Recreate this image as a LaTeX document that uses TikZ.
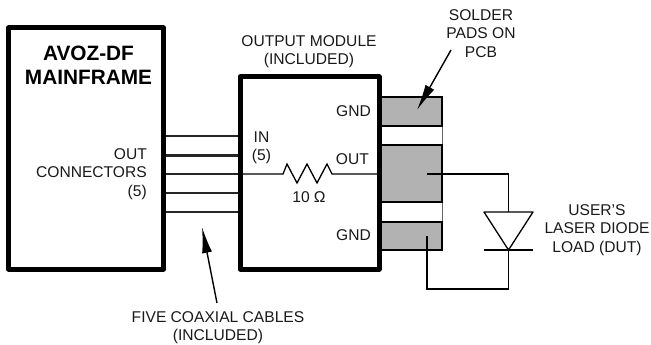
\documentclass[tikz,border=0pt]{standalone}
\usepackage{fontspec}
\setmainfont{Liberation Sans}
\usetikzlibrary{arrows.meta}
\tikzset{
  lbl/.style={inner sep=0pt,font=\fontsize{15.6}{18.4}\selectfont,align=center,text=black!90},
  bigbox/.style={draw,line width=5pt,line join=round,fill=white,inner sep=0pt},
  pad/.style={draw,line width=1.6pt,fill=black!30,inner sep=0pt,minimum width=63pt},
  gap/.style={draw=black!60,line width=1pt,fill=white,inner sep=0pt,minimum width=63pt},
  cable/.style={line width=2pt,draw=black!85},
  wire/.style={line width=1.3pt},
  callout/.style={line width=1.4pt,-{Latex[length=26pt,width=10pt]}}
}
\begin{document}
\begin{tikzpicture}[x=1pt,y=-1pt]
\useasboundingbox (0,0) rectangle (651,345);
% pads
\node[gap,minimum height=19pt] (gapa) at (410.5,135.5) {};
\node[gap,minimum height=20pt] (gapb) at (410.5,212) {};
\node[pad,minimum height=29pt] (padtop) at (410.5,111.5) {};
\node[pad,minimum height=57pt] (padmid) at (410.5,173.5) {};
\node[pad,minimum height=28pt] (padbot) at (410.5,236) {};
% boxes
\node[bigbox,minimum width=155pt,minimum height=241pt] (main) at (86,148.5) {};
\node[bigbox,minimum width=139pt,minimum height=192pt] (mod) at (309.5,173) {};
% cables
\foreach \n/\y/\w in {1/136/2pt,2/155/3pt,3/174/2.4pt,4/193/2.4pt,5/212/2pt}{
  \coordinate (ca\n) at (main.east |- 0,\y);
  \coordinate (cb\n) at (mod.west |- 0,\y);
  \draw[cable,line width=\w] (ca\n) -- (cb\n);
}
% resistor
\coordinate (ra) at (283,174);
\coordinate (rb) at (332,174);
\coordinate (mr) at (mod.east |- rb);
\draw[wire,line join=miter] (cb3) -- (ra) -- (287,164) -- (297,183) -- (307,164) -- (317,183) -- (327,164) -- (rb) -- (mr);
% diode
\coordinate (solmid) at (427,174);
\coordinate (solbot) at (427,236);
\coordinate (corna) at (508.5,174);
\coordinate (da) at (508.5,212);
\coordinate (dk) at (508.5,250);
\coordinate (dal) at (484,212);
\coordinate (dar) at (533,212);
\coordinate (dkl) at (484,250);
\coordinate (dkr) at (533,250);
\coordinate (cornb) at (508.5,289);
\coordinate (cornc) at (427,289);
\draw[wire,line join=miter] (solmid) -- (corna) -- (da);
\draw[wire,line join=round] (dal) -- (dar) -- (dk) -- cycle;
\draw[wire] (dkl) -- (dkr);
\draw[wire,line join=miter] (dk) -- (cornb) -- (cornc) -- (solbot);
% labels
\node[lbl,font=\fontsize{20.8}{24}\selectfont\bfseries,text=black] (title) at (88.5,65) {AVOZ-DF\\MAINFRAME};
\node[lbl,align=right,anchor=east] (outc) at (147,174) {OUT\\CONNECTORS\\(5)};
\node[lbl] (modt) at (309,51.5) {OUTPUT MODULE\\(INCLUDED)};
\node[lbl,anchor=east] (g1) at (371,111) {GND};
\node[lbl,anchor=east] (o1) at (369,159) {OUT};
\node[lbl,anchor=east] (g2) at (371,235) {GND};
\node[lbl] (in) at (261.5,148) {IN\\(5)};
\node[lbl] (ohm) at (309,197) {10 Ω};
\node[lbl] (solder) at (481,33.5) {SOLDER\\PADS ON\\PCB};
\node[lbl] (user) at (597,230) {USER'S\\LASER DIODE\\LOAD (DUT)};
\node[lbl] (five) at (218,327.5) {FIVE COAXIAL CABLES\\(INCLUDED)};
% callouts
\coordinate (t1) at (202,227);
\coordinate (s1) at (217,303);
\coordinate (t2) at (417,110);
\coordinate (s2) at (451,50);
\draw[callout] (s1) -- (t1);
\draw[callout] (s2) -- (t2);
\end{tikzpicture}
\end{document}
